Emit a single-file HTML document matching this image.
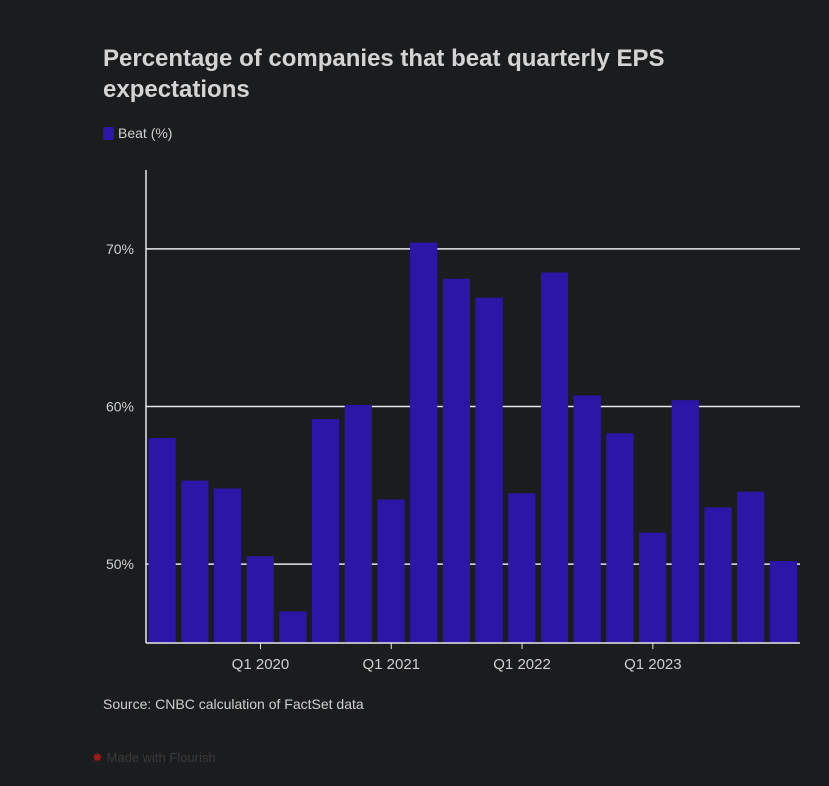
<!DOCTYPE html>
<html><head><meta charset="utf-8"><style>
body{margin:0;background:#1b1c1e;width:829px;height:786px;overflow:hidden;font-family:"Liberation Sans",sans-serif;}
.t{position:absolute;left:103px;top:43px;color:#d4d4d4;font-size:24px;font-weight:bold;line-height:31px;width:640px;}
.lg{position:absolute;left:103px;top:125px;color:#cfcfcf;font-size:14px;}
.lg span{display:inline-block;width:11px;height:13px;background:#2a17a8;border-radius:2px;vertical-align:-2px;margin-right:4px;}
.src{position:absolute;left:103px;top:696px;color:#cfcfcf;font-size:14px;}
.mw{position:absolute;left:92px;top:750px;color:#3a3a3a;font-size:13px;}
</style></head><body>
<div class="t">Percentage of companies that beat quarterly EPS expectations</div>
<div class="lg"><span></span>Beat (%)</div>
<svg id="c" width="829" height="786" style="position:absolute;left:0;top:0"></svg>
<div class="src">Source: CNBC calculation of FactSet data</div>
<div class="mw"><span style="color:#a01818">✸</span> Made with Flourish</div>
<script>
const categories=["Q2 2019","Q3 2019","Q4 2019","Q1 2020","Q2 2020","Q3 2020","Q4 2020","Q1 2021","Q2 2021","Q3 2021","Q4 2021","Q1 2022","Q2 2022","Q3 2022","Q4 2022","Q1 2023","Q2 2023","Q3 2023","Q4 2023","Q1 2024"];
const beatValues=[58.0,55.3,54.8,50.5,47.0,59.2,60.1,54.1,70.4,68.1,66.9,54.5,68.5,60.7,58.3,52.0,60.4,53.6,54.6,50.2];
const yTicks=[50,60,70];
const yTickLabels=["50%","60%","70%"];
const xTickLabels=["Q1 2020","Q1 2021","Q1 2022","Q1 2023"];
const NS="http://www.w3.org/2000/svg",svg=document.getElementById('c');
const L=146,R=800,T=170,B=643,y0=45,y1=75;
const y=v=>B-(v-y0)/(y1-y0)*(B-T);
const bw=(R-L)/categories.length;
const x=i=>L+i*bw;
function mk(t,a){const e=document.createElementNS(NS,t);for(const k in a)e.setAttribute(k,a[k]);svg.appendChild(e);return e;}
yTicks.forEach((v,i)=>{const g=mk('line',{x1:L,x2:R,y1:y(v),y2:y(v),stroke:'#e8e8e8','stroke-width':1.5});


const t=mk('text',{x:L-12,y:y(v)+5,'text-anchor':'end',fill:'#cfcfcf','font-size':14,'font-family':'Liberation Sans'});t.textContent=yTickLabels[i];

});
beatValues.forEach((v,i)=>{const r=mk('rect',{x:x(i)+2.5,y:y(v),width:bw-5.5,height:B-y(v),fill:'#2a17a8'});

});
xTickLabels.forEach(l=>{const i=categories.indexOf(l);const cx=x(i)+bw/2;
mk('line',{x1:cx,x2:cx,y1:B,y2:B+6,stroke:'#e8e8e8'});
const t=mk('text',{x:cx,y:B+26,'text-anchor':'middle',fill:'#cfcfcf','font-size':15,'font-family':'Liberation Sans'});t.textContent=l;

});
const ya=mk('line',{x1:L,x2:L,y1:T,y2:B,stroke:'#e8e8e8','stroke-width':1.5});


const xa=mk('line',{x1:L,x2:R,y1:B,y2:B,stroke:'#e8e8e8','stroke-width':1.5});


</script>
</body></html>
